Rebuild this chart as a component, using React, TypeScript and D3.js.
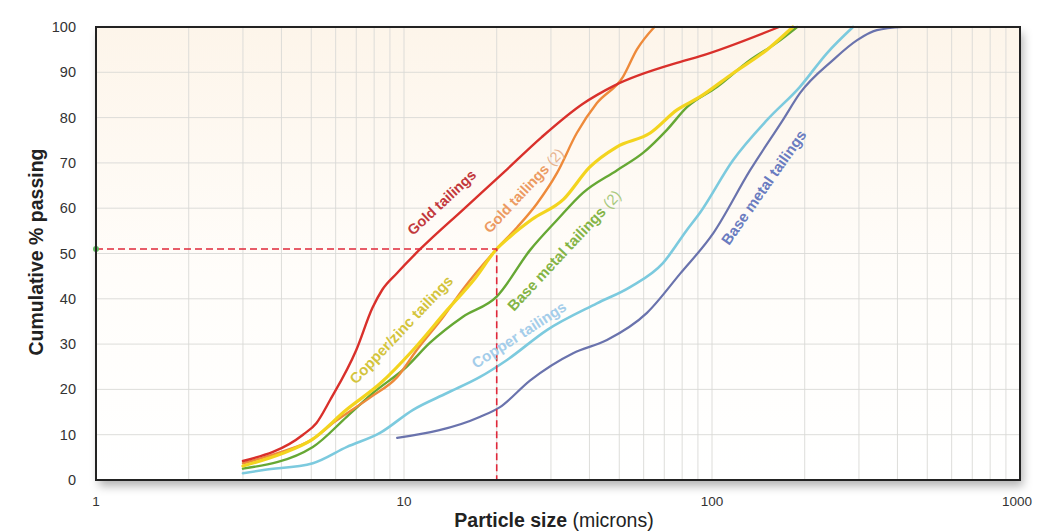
import React from "react";
import * as d3 from "d3";

const W = 1037;
const H = 531;
const M = { left: 96, right: 1020, top: 27, bottom: 480 };

const yTicks = [0, 10, 20, 30, 40, 50, 60, 70, 80, 90, 100];
const xTickLabels = [1, 10, 100, 1000];

const goldX = [3, 4.7, 5.2, 5.75, 7, 7.9, 8.5, 9.5, 11.3, 15.5, 21, 28, 38, 48, 79, 91, 165];
const goldY = [4.2, 10, 12.6, 17.6, 28.7, 38, 42, 45.7, 51, 59.6, 67.8, 75.7, 83, 87, 92.3, 93.5, 100];

const gold2X = [3, 4, 5, 6, 7.8, 9.5, 11, 13.4, 15.5, 20, 23.3, 27, 31.4, 36.4, 42.3, 51.4, 57, 65];
const gold2Y = [3.7, 6.2, 8.8, 13, 18.3, 22.7, 28.7, 36, 42, 51, 55.8, 61, 67.8, 76.6, 83.2, 89, 95, 100];

const cuZnX = [3, 4, 5, 6.5, 8.4, 10.7, 13.8, 17, 20, 22, 26, 33, 40, 49, 63, 77, 91, 117, 151, 183];
const cuZnY = [3.1, 5.8, 8.8, 15.5, 21.4, 28.7, 37.5, 44.5, 51, 53.6, 57.5, 62, 69, 73.5, 76.6, 81.7, 84.5, 89.8, 95, 100];

const base2X = [3, 5.06, 6.53, 7.93, 10.2, 12.1, 15.5, 20, 25.7, 31.4, 38.1, 49.2, 59.7, 71.4, 82.9, 104, 133, 162, 189];
const base2Y = [2.5, 7.3, 14, 19.2, 25, 30.2, 36, 40.5, 50.8, 57.4, 63.4, 68.4, 72.2, 77.3, 82.3, 86.8, 92.7, 96.5, 100];

const copperX = [3, 3.5, 5.06, 6.53, 8.36, 10.7, 13.8, 17.6, 21.6, 29.1, 42.3, 54.2, 69.3, 82.9, 91.4, 117, 151, 193, 236, 287];
const copperY = [1.5, 2.2, 3.7, 7.3, 10.4, 15.5, 19.2, 22.7, 26.5, 33.1, 39, 42.6, 47.9, 55.2, 59, 70.6, 79.5, 86.8, 94.2, 100];

const baseX = [9.5, 17.6, 20.5, 25.7, 35.4, 45.6, 61.5, 78.7, 101, 133, 170, 193, 247, 296, 343, 417];
const baseY = [9.3, 13.9, 16.1, 22, 28, 30.9, 36.9, 45.5, 54.5, 68.4, 79.5, 85.4, 92.7, 97.1, 99.3, 100];

const refX = [1, 20, 20];
const refY = [51, 51, 0];

type Series = { name: string; xs: number[]; ys: number[]; color: string; width: number };

const series: Series[] = [
  { name: "Copper tailings", xs: copperX, ys: copperY, color: "#7ccade", width: 2.6 },
  { name: "Base metal tailings", xs: baseX, ys: baseY, color: "#6a73ad", width: 2.2 },
  { name: "Base metal tailings (2)", xs: base2X, ys: base2Y, color: "#66a834", width: 2.4 },
  { name: "Gold tailings (2)", xs: gold2X, ys: gold2Y, color: "#ee8a3a", width: 2.4 },
  { name: "Copper/zinc tailings", xs: cuZnX, ys: cuZnY, color: "#f3d41e", width: 3.2 },
  { name: "Gold tailings", xs: goldX, ys: goldY, color: "#d9302b", width: 2.4 },
];

const labels = [
  { main: "Gold tailings", extra: "", x: 413, y: 236, angle: -43, size: 14.5, color: "#c2383c", extraColor: "" },
  { main: "Gold tailings", extra: " (2)", x: 490, y: 234, angle: -47, size: 14.5, color: "#ec9a62", extraColor: "#e8b48e" },
  { main: "Copper/zinc tailings", extra: "", x: 356, y: 385, angle: -46.5, size: 15, color: "#d3c43c", extraColor: "" },
  { main: "Base metal tailings", extra: " (2)", x: 514, y: 312, angle: -47, size: 15, color: "#84b446", extraColor: "#a8c97e" },
  { main: "Copper tailings", extra: "", x: 476, y: 369, angle: -33, size: 15, color: "#a4cdea", extraColor: "" },
  { main: "Base metal tailings", extra: "", x: 729, y: 246, angle: -55, size: 15, color: "#6a7cc0", extraColor: "" },
];

export default function App() {
  const x = d3.scaleLog().domain([1, 1000]).range([M.left, M.right]);
  const y = d3.scaleLinear().domain([0, 100]).range([M.bottom, M.top]);

  const gridX: number[] = [];
  for (const dec of [1, 10, 100]) {
    for (let k = 1; k <= 9; k++) gridX.push(dec * k);
  }
  gridX.push(1000);

  const line = d3
    .line<[number, number]>()
    .x((d) => x(d[0]))
    .y((d) => y(d[1]))
    .curve(d3.curveMonotoneX);

  const refLine = d3
    .line<[number, number]>()
    .x((d) => x(d[0]))
    .y((d) => y(d[1]));

  const font = "'Liberation Sans', Arial, Helvetica, sans-serif";

  return (
    <svg
      width={W}
      height={H}
      style={{ position: "absolute", left: 0, top: 0, background: "#fff" }}
      fontFamily={font}
    >
      <defs>
        <linearGradient id="bg" x1="0" y1="0" x2="0" y2="1">
          <stop offset="0" stopColor="#fdf5ea" />
          <stop offset="0.55" stopColor="#fffdfa" />
          <stop offset="1" stopColor="#ffffff" />
        </linearGradient>
        <filter id="shadow" x="-5%" y="-5%" width="115%" height="125%">
          <feDropShadow dx="3" dy="6" stdDeviation="5" floodColor="#000" floodOpacity="0.3" />
        </filter>
        <clipPath id="plotClip">
          <rect x={M.left} y={M.top - 2} width={M.right - M.left} height={M.bottom - M.top + 2} />
        </clipPath>
      </defs>

      <rect
        x={M.left}
        y={M.top}
        width={M.right - M.left}
        height={M.bottom - M.top}
        fill="url(#bg)"
        filter="url(#shadow)"
      />

      {gridX.map((v, i) => (
        <line key={"gx" + i} x1={x(v)} x2={x(v)} y1={M.top} y2={M.bottom} stroke="#d9d9d6" strokeWidth={0.9} />
      ))}
      {yTicks.map((v) => (
        <line key={"gy" + v} x1={M.left} x2={M.right} y1={y(v)} y2={y(v)} stroke="#d9d9d6" strokeWidth={0.9} />
      ))}

      <g clipPath="url(#plotClip)">
        {series.map((s) => (
          <path
            key={s.name}
            d={line(s.xs.map((v, i) => [v, s.ys[i]] as [number, number])) || ""}
            fill="none"
            stroke={s.color}
            strokeWidth={s.width}
            strokeLinejoin="round"
            strokeLinecap="round"
          />
        ))}
      </g>

      <path
        d={refLine(refX.map((v, i) => [v, refY[i]] as [number, number])) || ""}
        fill="none"
        stroke="#e0283a"
        strokeWidth={1.6}
        strokeDasharray="7 4"
      />
      <circle cx={x(1)} cy={y(51)} r={3} fill="#5cb85c" />

      <rect
        x={M.left}
        y={M.top}
        width={M.right - M.left}
        height={M.bottom - M.top}
        fill="none"
        stroke="#222"
        strokeWidth={2}
      />

      {labels.map((l, i) => (
        <text
          key={"lab" + i}
          transform={`translate(${l.x},${l.y}) rotate(${l.angle})`}
          fontSize={l.size}
          fontWeight="bold"
          fill={l.color}
        >
          {l.main}
          {l.extra ? (
            <tspan fontWeight="normal" fill={l.extraColor}>
              {l.extra}
            </tspan>
          ) : null}
        </text>
      ))}

      {yTicks.map((v) => (
        <text key={"yt" + v} x={76} y={y(v)} dy="0.35em" textAnchor="end" fontSize={14.5} fill="#333">
          {v}
        </text>
      ))}
      {xTickLabels.map((v) => (
        <text key={"xt" + v} x={x(v) + (v === 1000 ? -3 : 0)} y={506} textAnchor="middle" fontSize={13.5} fill="#333">
          {v}
        </text>
      ))}

      <text
        transform={`translate(43,252) rotate(-90)`}
        textAnchor="middle"
        fontSize={19.5}
        fontWeight="bold"
        fill="#222"
      >
        Cumulative % passing
      </text>
      <text x={554} y={527} textAnchor="middle" fontSize={19.5} fill="#222">
        <tspan fontWeight="bold">Particle size</tspan>
        <tspan> (microns)</tspan>
      </text>
    </svg>
  );
}
